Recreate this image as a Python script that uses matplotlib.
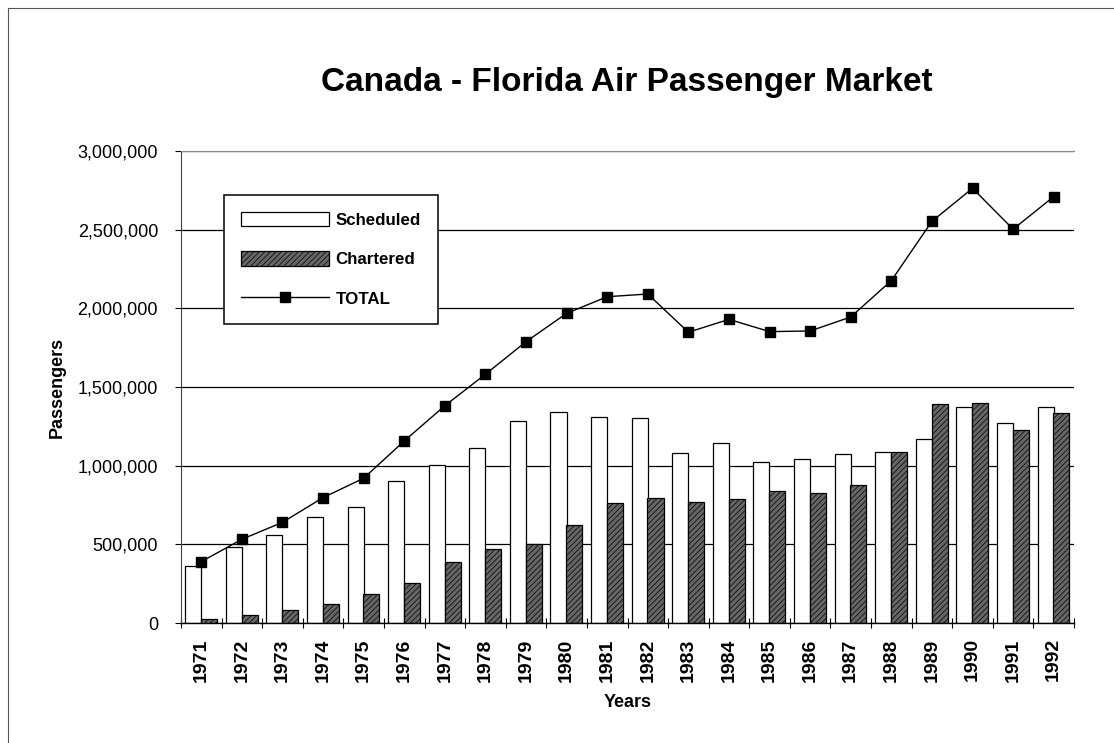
import matplotlib
matplotlib.use("Agg")
import matplotlib.pyplot as plt
from matplotlib.lines import Line2D
from matplotlib.ticker import FuncFormatter, MultipleLocator
import numpy as np

years = ["1971", "1972", "1973", "1974", "1975", "1976", "1977", "1978", "1979", "1980", "1981",
         "1982", "1983", "1984", "1985", "1986", "1987", "1988", "1989", "1990", "1991", "1992"]
scheduled = [360000, 481000, 559000, 676000, 735000, 905000, 1004000, 1110000, 1286000, 1343000, 1311000,
             1301000, 1083000, 1146000, 1021000, 1041000, 1076000, 1089000, 1168000, 1375000, 1271000, 1371000]
chartered = [25000, 51000, 83000, 121000, 182000, 252000, 386000, 472000, 502000, 623000, 761000,
             797000, 771000, 788000, 841000, 824000, 877000, 1089000, 1390000, 1396000, 1227000, 1337000]
total = [390000, 532000, 640000, 797000, 920000, 1157000, 1381000, 1581000, 1788000, 1968000, 2074000,
         2091000, 1848000, 1930000, 1852000, 1856000, 1945000, 2176000, 2553000, 2763000, 2503000, 2710000]

plt.rcParams['font.family'] = ['Liberation Sans', 'DejaVu Sans']
plt.rcParams['hatch.linewidth'] = 0.5

fig = plt.figure(figsize=(11.14, 7.43), dpi=100)
ax = fig.add_axes([181/1114, 1 - 623/743, (1074 - 181)/1114, (623 - 151)/743])

x = np.arange(len(years))
w = 0.395
b1 = ax.bar(x - 0.2, scheduled, width=w, color='white', edgecolor='black', linewidth=0.9,
            zorder=2, label='Scheduled')
b2 = ax.bar(x + 0.19, chartered, width=w, color='#666666', edgecolor='black', linewidth=0.9,
            hatch='//////', zorder=2, label='Chartered')
l1, = ax.plot(x, total, color='black', linewidth=1.0, marker='s', markersize=7.5,
              zorder=3, label='TOTAL')

ax.set_xlim(-0.5, len(years) - 0.5)
ax.set_ylim(0, 3000000)
ax.yaxis.set_major_locator(MultipleLocator(500000))
ax.yaxis.set_major_formatter(FuncFormatter(lambda v, p: f"{int(v):,}"))
ax.grid(axis='y', color='black', linewidth=0.9, zorder=0)
ax.set_axisbelow(True)

ax.set_xticks(x)
ax.set_xticklabels(years, rotation=90, fontsize=14, fontweight='bold')
ax.set_xticks(np.arange(-0.5, len(years)), minor=True)
ax.tick_params(axis='x', which='major', length=0, pad=11)
ax.tick_params(axis='x', which='minor', direction='inout', length=7.5, width=0.8)
ax.tick_params(axis='y', direction='out', length=4.5, width=0.8, labelsize=13, pad=12)

ax.spines['right'].set_visible(False)
ax.spines['top'].set_color('#888888')
ax.spines['left'].set_color('#444444')
ax.spines['left'].set_linewidth(0.8)
ax.spines['bottom'].set_linewidth(1.0)

ax.set_xlabel('Years', fontsize=13, fontweight='bold', labelpad=9)
ax.set_ylabel('Passengers', fontsize=13, fontweight='bold')
ax.yaxis.set_label_coords(-0.129, 0.5)

leg = ax.legend(handles=[b1, b2, l1], loc='upper left', bbox_to_anchor=(0.048, 0.907),
                prop={'weight': 'bold', 'size': 12.2}, frameon=True, fancybox=False,
                edgecolor='black', framealpha=1, handlelength=5.2, handleheight=0.9,
                labelspacing=1.4, handletextpad=0.4, borderpad=1.0, borderaxespad=0)
leg.get_frame().set_linewidth(1.1)
leg.set_zorder(5)

fig.text(626.5/1114, 1 - 82/743, 'Canada - Florida Air Passenger Market',
         ha='center', va='center', fontsize=24, fontweight='bold')

# outer frame of the page
fig.add_artist(Line2D([8/1114, 8/1114], [0, 1 - 8/743], transform=fig.transFigure,
                      color='#555555', linewidth=0.8))
fig.add_artist(Line2D([8/1114, 1], [1 - 8/743, 1 - 8/743], transform=fig.transFigure,
                      color='#555555', linewidth=0.8))

fig.savefig('out.png', dpi=100)
